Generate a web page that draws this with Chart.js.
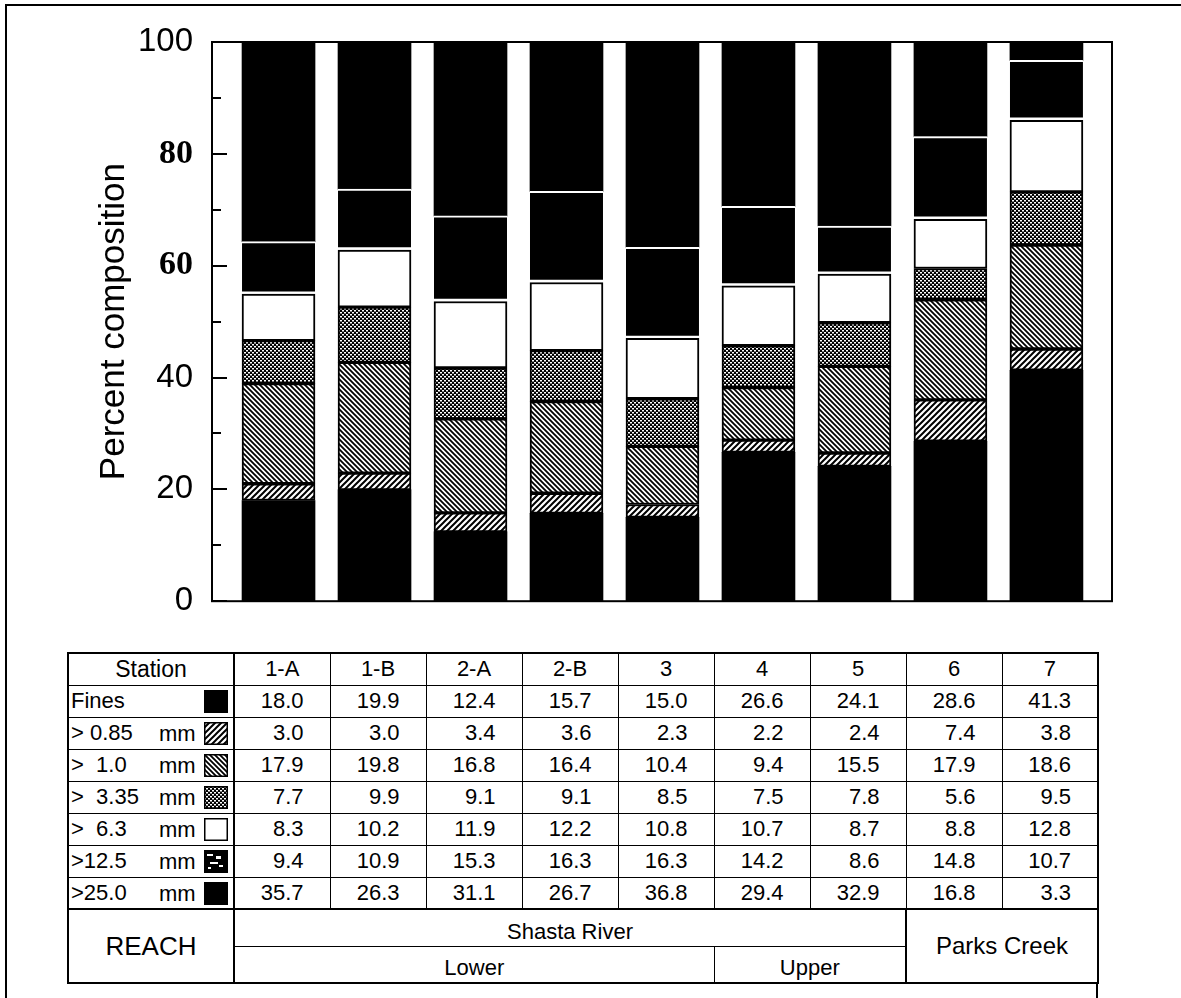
<!DOCTYPE html>
<html>
<head>
<meta charset="utf-8">
<script src="https://cdn.jsdelivr.net/npm/chart.js@4.4.1/dist/chart.umd.min.js"></script>
<style>
    body { margin: 0; background: #fff; width: 1181px; height: 998px; overflow: hidden; position: relative; }
    #frame { position: absolute; left: 5px; top: 4px; width: 1180px; height: 1000px;
        border-left: 2px solid #000; border-top: 2px solid #000; }
    #chartBox { position: absolute; left: 0; top: 0; }
    #tbl { position: absolute; left: 67px; top: 652px; border-collapse: collapse; table-layout: fixed;
        font-family: "Liberation Sans", Arial, sans-serif; font-size: 22px; color: #000;
        border: 2px solid #000; }
    #tbl td, #tbl th { border: 1px solid #000; padding: 0; font-weight: normal; white-space: pre; line-height: 1; }
    #tbl tr.row { height: 32px; }
    #tbl tr.reach { height: 37px; }
    #tbl th { text-align: center; }
    #tbl td.num { text-align: right; padding-right: 26px; }
    #tbl td.lab { position: relative; text-align: left; padding-left: 2px; border-right: 2px solid #000; }
    #tbl th.lab { font-size: 23px; border-right: 2px solid #000; }
    #tbl .mm { position: absolute; left: 90px; top: 5px; }
    #tbl canvas.sw { position: absolute; right: 5px; top: 4px; }
    #tbl tr.reachTop td { border-top: 2px solid #000; }
    #tbl td.reachLab { text-align: center; font-size: 26px; padding: 0; border-right: 2px solid #000; }
    #tbl td.reachCell { text-align: center; vertical-align: bottom; padding-bottom: 3px; }
    #tbl td.parks { text-align: center; font-size: 24px; border-left: 2px solid #000; }
    #tail { position: absolute; left: 1096px; top: 982px; width: 2px; height: 16px; background: #000; }
</style>
</head>
<body>
<div id="frame"></div>
<canvas id="chartBox" width="1181" height="640"></canvas>
<table id="tbl"></table>
<div id="tail"></div>
<script>
// data (percent composition per station)
const stations = ["1-A", "1-B", "2-A", "2-B", "3", "4", "5", "6", "7"];
const sizeLabels = ["Fines", "> 0.85", ">  1.0", ">  3.35", ">  6.3", ">12.5", ">25.0"];
const fines = [18.0, 19.9, 12.4, 15.7, 15.0, 26.6, 24.1, 28.6, 41.3];
const gt085 = [3.0, 3.0, 3.4, 3.6, 2.3, 2.2, 2.4, 7.4, 3.8];
const gt10 = [17.9, 19.8, 16.8, 16.4, 10.4, 9.4, 15.5, 17.9, 18.6];
const gt335 = [7.7, 9.9, 9.1, 9.1, 8.5, 7.5, 7.8, 5.6, 9.5];
const gt63 = [8.3, 10.2, 11.9, 12.2, 10.8, 10.7, 8.7, 8.8, 12.8];
const gt125 = [9.4, 10.9, 15.3, 16.3, 16.3, 14.2, 8.6, 14.8, 10.7];
const gt250 = [35.7, 26.3, 31.1, 26.7, 36.8, 29.4, 32.9, 16.8, 3.3];
const yTicks = [0, 20, 40, 60, 80, 100];
const reachRivers = ["Shasta River", "Parks Creek"];
const riverSpans = [7, 2];
const reachParts = ["Lower", "Upper"];
const partSpans = [5, 2];

const seriesValues = [fines, gt085, gt10, gt335, gt63, gt125, gt250];
// fill style of each size class, bottom to top
const fillKinds = ["black", "fwd", "back", "dots", "white", "speck", "black"];

// small tile patterns like the old b/w hatching
function makePattern(ctx, kind) {
    const t = document.createElement("canvas");
    const s = kind === "fwd" ? 6 : kind === "back" ? 5 : 4;
    t.width = s; t.height = s;
    const g = t.getContext("2d");
    g.fillStyle = "#fff";
    g.fillRect(0, 0, s, s);
    g.strokeStyle = "#000";
    if (kind === "fwd") {
        g.lineWidth = 2;
        g.beginPath();
        g.moveTo(-1, s + 1); g.lineTo(s + 1, -1);
        g.moveTo(-1, 1); g.lineTo(1, -1);
        g.moveTo(s - 1, s + 1); g.lineTo(s + 1, s - 1);
        g.stroke();
    } else if (kind === "back") {
        g.lineWidth = 1.8;
        g.beginPath();
        g.moveTo(-1, -1); g.lineTo(s + 1, s + 1);
        g.moveTo(-1, s - 1); g.lineTo(1, s + 1);
        g.moveTo(s - 1, -1); g.lineTo(s + 1, 1);
        g.stroke();
    } else if (kind === "dots") {
        g.fillStyle = "#000";
        g.fillRect(0, 0, s, s);
        g.fillStyle = "#fff";
        g.fillRect(0, 0, 2, 1.5);
        g.fillRect(2, 2, 2, 1.5);
    }
    return ctx.createPattern(t, "repeat");
}

function fillFor(ctx, kind) {
    if (kind === "black" || kind === "speck") return "#000";
    if (kind === "white") return "#fff";
    return makePattern(ctx, kind);
}

function drawSwatch(cv, kind) {
    const g = cv.getContext("2d");
    g.fillStyle = fillFor(g, kind);
    g.fillRect(0, 0, cv.width, cv.height);
    if (kind === "speck") {
        g.fillStyle = "#fff";
        [[3, 4, 6, 2], [12, 6, 5, 3], [6, 12, 8, 2], [15, 15, 4, 2], [4, 17, 3, 2]].forEach((r) => g.fillRect(...r));
    }
    g.strokeStyle = "#000";
    g.lineWidth = 1.5;
    g.strokeRect(0.75, 0.75, cv.width - 1.5, cv.height - 1.5);
}

// table under the chart
function buildTable() {
    const tbl = document.getElementById("tbl");
    let html = '<colgroup><col style="width:166px">' + stations.map(() => '<col style="width:96px">').join("") + "</colgroup>";
    html += '<tr class="row"><th class="lab">Station</th>' + stations.map((s) => "<th>" + s + "</th>").join("") + "</tr>";
    sizeLabels.forEach((lab, i) => {
        const mm = i === 0 ? "" : '<span class="mm">mm</span>';
        html += '<tr class="row"><td class="lab">' + lab + mm + '<canvas class="sw" width="24" height="23"></canvas></td>' +
            seriesValues[i].map((v) => '<td class="num">' + v.toFixed(1) + "</td>").join("") + "</tr>";
    });
    html += '<tr class="reach reachTop"><td class="reachLab" rowspan="2">REACH</td>' +
        '<td class="reachCell" colspan="' + riverSpans[0] + '">' + reachRivers[0] + "</td>" +
        '<td class="parks" rowspan="2" colspan="' + riverSpans[1] + '">' + reachRivers[1] + "</td></tr>";
    html += '<tr class="reach">' + reachParts.map((p, i) => '<td class="reachCell" colspan="' + partSpans[i] + '">' + p + "</td>").join("") + "</tr>";
    tbl.innerHTML = html;
    tbl.querySelectorAll("canvas.sw").forEach((cv, i) => drawSwatch(cv, fillKinds[i]));
}

// frame round the plot and the inward tick marks of the old figure
const framePlugin = {
    id: "frame",
    afterDatasetsDraw(chart) {
        const { ctx, chartArea: a } = chart;
        const y = chart.scales.y;
        ctx.save();
        ctx.strokeStyle = "#000";
        ctx.lineWidth = 2;
        for (let v = 0; v <= 100; v += 10) {
            const py = Math.round(y.getPixelForValue(v));
            const len = v % 20 === 0 ? 15 : 9;
            ctx.beginPath();
            ctx.moveTo(a.left, py);
            ctx.lineTo(a.left + len, py);
            ctx.stroke();
        }
        ctx.strokeRect(a.left, a.top, a.right - a.left, a.bottom - a.top);
        ctx.restore();
    },
};

document.addEventListener("DOMContentLoaded", function () {
    buildTable();
    const ctx = document.getElementById("chartBox").getContext("2d");

    const datasets = seriesValues.map((vals, i) => {
        const kind = fillKinds[i];
        const ds = {
            label: sizeLabels[i],
            data: vals.map((v, j) => ({ x: j, y: v })),
            backgroundColor: fillFor(ctx, kind),
            borderColor: "#000",
            borderWidth: kind === "black" ? 0 : 2,
            borderSkipped: false,
            barThickness: 73, // bar width of the original
        };
        if (kind === "speck") {
            ds.borderColor = "#fff";
            ds.borderWidth = { top: 2, right: 0, bottom: 3, left: 0 };
        }
        return ds;
    });

    new Chart(ctx, {
        type: "bar",
        data: { datasets: datasets },
        options: {
            responsive: false,
            animation: false,
            devicePixelRatio: 1,
            layout: { padding: { left: 93, top: 42, right: 69, bottom: 24 } },
            plugins: { legend: { display: false }, tooltip: { enabled: false } },
            scales: {
                x: {
                    type: "linear",
                    stacked: true,
                    offset: false,
                    min: -0.693,
                    max: 8.683,
                    display: false,
                },
                y: {
                    stacked: true,
                    min: 0,
                    max: 100,
                    afterFit(scale) { scale.width = 119; },
                    afterBuildTicks(scale) { scale.ticks = yTicks.map((v) => ({ value: v })); },
                    grid: { display: false, drawTicks: false },
                    border: { display: false },
                    ticks: {
                        padding: 19,
                        color: "#000",
                        // 80 and 60 are set in a bold serif face in the original
                        font: (c) => (c.tick && (c.tick.value === 80 || c.tick.value === 60))
                            ? { family: "'Liberation Serif', 'Times New Roman', serif", size: 34, weight: "bold" }
                            : { family: "'Liberation Sans', Arial, sans-serif", size: 33 },
                    },
                    title: {
                        display: true,
                        text: "Percent composition",
                        color: "#000",
                        padding: 0,
                        font: { family: "'Liberation Sans', Arial, sans-serif", size: 35 },
                    },
                },
            },
        },
        plugins: [framePlugin],
    });
});
</script>
</body>
</html>
